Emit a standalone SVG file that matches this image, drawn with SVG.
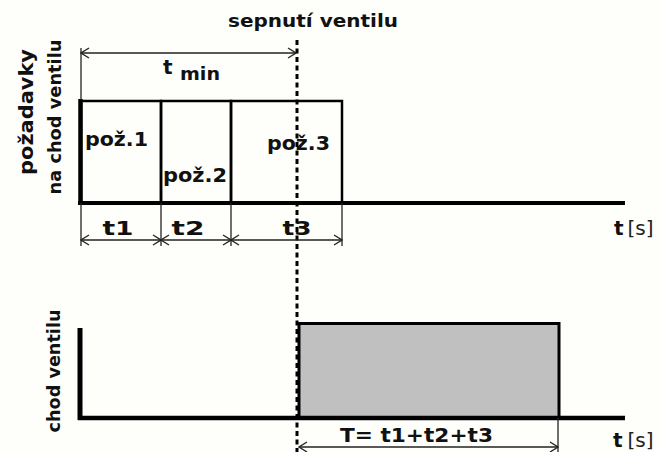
<svg xmlns="http://www.w3.org/2000/svg" width="659" height="452" viewBox="0 0 659 452">
<style>
.lbl{font-family:"DejaVu Sans","Liberation Sans",sans-serif;font-weight:bold;fill:#111}
.reg{font-family:"DejaVu Sans","Liberation Sans",sans-serif;font-weight:normal;fill:#222}
.thick{stroke:#000;stroke-width:4;fill:none}
.med{stroke:#000;stroke-width:2.5;fill:none}
.dim{stroke:#222;stroke-width:1.3;fill:none}
.arr{marker-start:url(#oa);marker-end:url(#oa)}
</style>
<defs>
<marker id="oa" viewBox="-10 -6 11 12" markerWidth="11" markerHeight="12" refX="0" refY="0" orient="auto-start-reverse" markerUnits="userSpaceOnUse">
<path d="M-8,-5 L0,0 L-8,5" fill="none" stroke="#222" stroke-width="1.3"/>
</marker>
</defs>
<rect width="659" height="452" fill="#fefefb"/>

<g id="label-top-axis">
<text class="lbl" font-size="20" text-anchor="middle" textLength="126" lengthAdjust="spacingAndGlyphs" transform="translate(33,112) rotate(-90)">požadavky</text>
<text class="lbl" font-size="17" text-anchor="middle" textLength="155" lengthAdjust="spacingAndGlyphs" transform="translate(61,117) rotate(-90)">na chod ventilu</text>
</g>
<g id="label-bottom-axis">
<text class="lbl" font-size="18" text-anchor="middle" textLength="123" lengthAdjust="spacingAndGlyphs" transform="translate(60,371) rotate(-90)">chod ventilu</text>
</g>
<g id="label-switch">
<text class="lbl" font-size="18" x="228" y="27" textLength="170" lengthAdjust="spacingAndGlyphs">sepnutí ventilu</text>
</g>

<g id="req1">
<rect x="81" y="101" width="80" height="102" class="med"/>
<text class="lbl" font-size="19" x="85" y="146" textLength="63" lengthAdjust="spacingAndGlyphs">pož.1</text>
</g>
<g id="req2">
<rect x="161" y="101" width="70" height="102" class="med"/>
<text class="lbl" font-size="19" x="163" y="182" textLength="64" lengthAdjust="spacingAndGlyphs">pož.2</text>
</g>
<g id="req3">
<rect x="231" y="101" width="111" height="102" class="med"/>
<text class="lbl" font-size="19" x="267" y="150" textLength="63" lengthAdjust="spacingAndGlyphs">pož.3</text>
</g>

<g id="axis-top">
<line x1="80.5" y1="99" x2="80.5" y2="205" stroke="#000" stroke-width="4.5"/>
<line x1="78" y1="203" x2="625" y2="203" class="thick"/>
<text x="614" y="235" font-size="20"><tspan class="lbl">t</tspan><tspan class="reg" dx="4">[s]</tspan></text>
</g>

<g id="valve-run">
<rect x="299" y="323.5" width="260" height="94.5" fill="#c0c0c0" stroke="#000" stroke-width="3"/>
</g>

<g id="axis-bottom">
<line x1="80" y1="328" x2="80" y2="420" stroke="#000" stroke-width="5"/>
<line x1="78" y1="418" x2="625" y2="418" stroke="#000" stroke-width="4.5"/>
<text x="613" y="447" font-size="20"><tspan class="lbl">t</tspan><tspan class="reg" dx="5">[s]</tspan></text>
</g>

<g id="connectors">
<line x1="297" y1="40" x2="297" y2="452" stroke="#000" stroke-width="3" stroke-dasharray="5 3.5"/>
<line x1="81" y1="48" x2="81" y2="100" class="dim"/>
<line x1="81" y1="53" x2="296" y2="53" class="dim arr"/>
<line x1="81" y1="203" x2="81" y2="246" class="dim"/>
<line x1="161" y1="203" x2="161" y2="246" class="dim"/>
<line x1="231" y1="203" x2="231" y2="246" class="dim"/>
<line x1="342" y1="203" x2="342" y2="246" class="dim"/>
<line x1="81" y1="240" x2="161" y2="240" class="dim arr"/>
<line x1="161" y1="240" x2="231" y2="240" class="dim arr"/>
<line x1="231" y1="240" x2="342" y2="240" class="dim arr"/>
<line x1="558" y1="418" x2="558" y2="452" class="dim"/>
<line x1="299" y1="447" x2="558" y2="447" class="dim arr"/>
</g>

<g id="dim-labels">
<text class="lbl" font-size="20" x="163" y="74">t</text>
<text class="lbl" font-size="17" x="180" y="80" textLength="40" lengthAdjust="spacingAndGlyphs">min</text>
<text class="lbl" font-size="20" x="118" y="235" text-anchor="middle" textLength="31" lengthAdjust="spacingAndGlyphs">t1</text>
<text class="lbl" font-size="20" x="188" y="235" text-anchor="middle" textLength="33" lengthAdjust="spacingAndGlyphs">t2</text>
<text class="lbl" font-size="20" x="297" y="235" text-anchor="middle" textLength="29" lengthAdjust="spacingAndGlyphs">t3</text>
<text class="lbl" font-size="19" x="340" y="442" textLength="153" lengthAdjust="spacingAndGlyphs">T= t1+t2+t3</text>
</g>
</svg>
